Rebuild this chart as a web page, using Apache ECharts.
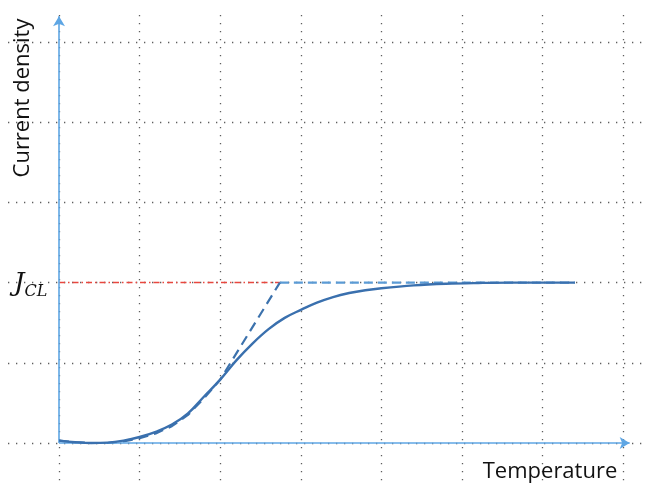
<!DOCTYPE html>
<html>
<head>
<meta charset="utf-8">
<script src="https://cdn.jsdelivr.net/npm/echarts@6/dist/echarts.min.js"></script>
<style>
html,body{margin:0;padding:0;background:#fff;}
#chart{width:645px;height:485px;}
</style>
</head>
<body>
<div id="chart"></div>
<script>
// Data (x in grid cells of temperature, y in grid cells of current density)
var solidX = [0, 0.2, 0.4, 0.6, 0.8, 1.0, 1.2, 1.4, 1.6, 1.8, 2.0, 2.2, 2.4, 2.6, 2.8, 3.0, 3.2, 3.4, 3.6, 3.8, 4.0, 4.4, 4.8, 5.2, 5.6, 6.0, 6.4];
var solidY = [0.03, 0.01, 0.0, 0.005, 0.03, 0.075, 0.14, 0.23, 0.37, 0.58, 0.79, 1.03, 1.24, 1.42, 1.56, 1.66, 1.75, 1.82, 1.87, 1.905, 1.93, 1.965, 1.985, 1.995, 2.0, 2.0, 2.0];
var dashedX = [0, 0.2, 0.4, 0.6, 0.8, 1.0, 1.2, 1.4, 1.6, 1.8, 2.0, 2.74];
var dashedY = [0.03, 0.01, 0.0, 0.0, 0.02, 0.06, 0.12, 0.21, 0.35, 0.56, 0.79, 2.0];
var jcl = 2.0;
var jclKnee = 2.74;
var curveEnd = 6.4;
var axisEndX = 7.08;
var axisEndY = 5.32;
var xTitle = 'Temperature';
var yTitle = 'Current density';

function pairs(xs, ys){ return xs.map(function(x,i){ return [x, ys[i]]; }); }

var chart = echarts.init(document.getElementById('chart'), null, {renderer:'canvas'});
var dotted = {color:'#5e5e5e', width:1.3, type:[1.3, 6.7]};
chart.setOption({
  animation:false,
  backgroundColor:'#ffffff',
  grid:[
    {left:-21.6, right:-2, top:15, bottom:0, outerBoundsMode:'none', containLabel:false},
    {left:8, right:0, top:-38.2, bottom:-38.2, outerBoundsMode:'none', containLabel:false}
  ],
  xAxis:[
    {gridIndex:0, type:'value', min:-1, max:7.295, interval:1,
     axisLine:{show:false}, axisTick:{show:false}, axisLabel:{show:false},
     splitLine:{show:true, lineStyle:dotted}},
    {gridIndex:1, type:'value', min:0, max:1, show:false}
  ],
  yAxis:[
    {gridIndex:0, type:'value', min:-0.5237, max:5.3367,
     axisLine:{show:false}, axisTick:{show:false}, axisLabel:{show:false},
     splitLine:{show:false}},
    {gridIndex:1, type:'value', min:-1, max:6, interval:1,
     axisLine:{show:false}, axisTick:{show:false}, axisLabel:{show:false},
     splitLine:{show:true, lineStyle:dotted}}
  ],
  series:[
    {
      type:'line', xAxisIndex:0, yAxisIndex:0, z:2, silent:true,
      data:[], symbol:'none',
      markLine:{
        silent:true, symbol:['none','arrow'], symbolSize:[9,10],
        label:{show:false},
        lineStyle:{color:'#5ea6e4', width:1.6, type:'solid'},
        data:[
          [{coord:[0,0]},{coord:[axisEndX,0]}],
          [{coord:[0,0]},{coord:[0,axisEndY]}]
        ]
      }
    },
    {
      type:'line', xAxisIndex:0, yAxisIndex:0, z:3, silent:true,
      data:[[0,jcl],[jclKnee,jcl]], symbol:'none',
      lineStyle:{color:'#e8473f', width:1.5, type:[6,3,1.5,3]}
    },
    {
      type:'line', xAxisIndex:0, yAxisIndex:0, z:3, silent:true,
      data:[[jclKnee,jcl],[curveEnd,jcl]], symbol:'none',
      lineStyle:{color:'#5b9bd5', width:2.2, type:[9,5]}
    },
    {
      type:'line', xAxisIndex:0, yAxisIndex:0, z:4, silent:true,
      data:pairs(dashedX, dashedY), symbol:'none', smooth:false,
      lineStyle:{color:'#3c72ad', width:2.2, type:[10,6]}
    },
    {
      type:'line', xAxisIndex:0, yAxisIndex:0, z:5, silent:true,
      data:pairs(solidX, solidY), symbol:'none', smooth:0.4,
      lineStyle:{color:'#3a70ae', width:2.4, type:'solid'}
    }
  ],
  graphic:[
    {type:'text', x:23, y:98, rotation:Math.PI/2, z:10,
     style:{text:yTitle, font:'22px "Open Sans"', fill:'#111', align:'center', verticalAlign:'middle'}},
    {type:'text', x:550, y:472, z:10,
     style:{text:xTitle, font:'22px "Open Sans"', fill:'#111', align:'center', verticalAlign:'middle'}},
    {type:'text', x:14, y:270, z:10,
     style:{text:'{j|J}{s|CL}', fill:'#111', align:'left', verticalAlign:'top',
       rich:{
         j:{font:'italic 26px "DejaVu Serif"', fill:'#111', verticalAlign:'bottom', lineHeight:27},
         s:{font:'italic 16px "DejaVu Serif"', fill:'#111', verticalAlign:'bottom', lineHeight:16, padding:[0,0,-3,0]}
       }}}
  ]
});
</script>
</body>
</html>
